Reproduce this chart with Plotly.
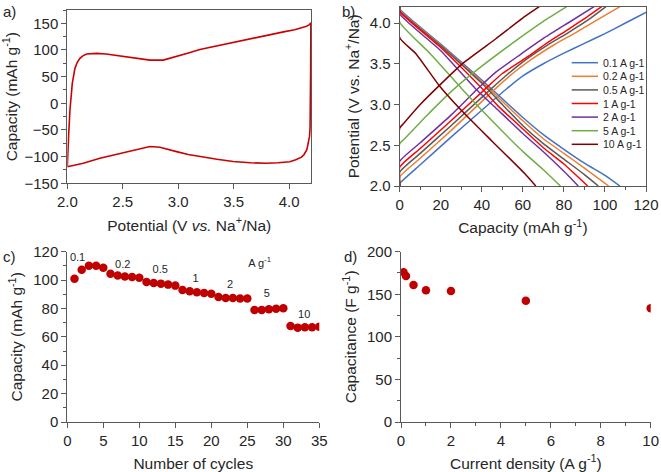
import plotly.graph_objects as go

# ---------------- data ----------------
# a) CV loop (potential V, capacity mAh/g)
cv_up_v = [2.000, 2.003, 2.012, 2.024, 2.045, 2.069, 2.090, 2.114, 2.140, 2.175, 2.220, 2.265, 2.350, 2.440,
           2.595, 2.745, 2.865, 2.985, 3.100, 3.195, 3.350, 3.495, 3.650, 3.796, 3.950, 4.050, 4.120, 4.157, 4.180, 4.196]
cv_up_c = [-119, -100, -60, -12.5, 37.5, 65.6, 77, 84.4, 89, 92.4, 93.5, 93.7, 92.5, 90,
           86, 81, 81, 87.5, 95, 101, 108, 114, 121, 127.5, 134, 138, 142, 144.5, 147, 151]
cv_dn_v = [4.196, 4.194, 4.192, 4.189, 4.184, 4.175, 4.160, 4.135, 4.112, 4.060, 4.006, 3.900, 3.796, 3.650,
           3.495, 3.350, 3.195, 3.090, 2.985, 2.900, 2.835, 2.745, 2.680, 2.595, 2.450, 2.294, 2.144, 2.070, 2.000]
cv_dn_c = [151, 60, -20, -45, -62, -75, -87, -96, -101, -106, -109.5, -111.5, -112.5, -111.5,
           -109, -105, -100, -96, -90.6, -86, -82.5, -81, -84, -88.8, -96, -103, -112.5, -116, -119]

# b) galvanostatic charge/discharge curves
rates = ["0.1 A g-1", "0.2 A g-1", "0.5 A g-1", "1 A g-1", "2 A g-1", "5 A g-1", "10 A g-1"]
rate_colors = ["#4472C4", "#ED7D31", "#595959", "#FF0000", "#7030A0", "#70AD47", "#800000"]
ch_cap = [
    [0, 0, 10, 25, 40, 52, 60, 70, 80, 90, 100, 110, 120, 125],
    [0, 0, 10, 25, 46, 55, 64, 75, 85, 95, 107.3],
    [0, 0, 10, 25, 44, 53, 62, 72, 82, 92, 100.5],
    [0, 0, 10, 25, 41.2, 50, 62, 72, 82, 91, 98.4],
    [0, 0, 10, 25, 37.5, 47, 58.6, 70, 82, 94.7],
    [0, 0, 2, 13, 26, 40, 57, 70, 81.4],
    [0, 0, 2, 10, 20, 31, 47, 61, 68],
]
ch_pot = [
    [2.0, 2.03, 2.26, 2.60, 2.93, 3.19, 3.35, 3.50, 3.63, 3.75, 3.87, 4.00, 4.13, 4.20],
    [2.0, 2.11, 2.34, 2.68, 3.18, 3.38, 3.55, 3.73, 3.87, 4.02, 4.20],
    [2.0, 2.17, 2.40, 2.74, 3.18, 3.38, 3.56, 3.73, 3.88, 4.04, 4.20],
    [2.0, 2.23, 2.46, 2.80, 3.18, 3.38, 3.58, 3.76, 3.92, 4.07, 4.20],
    [2.0, 2.30, 2.53, 2.87, 3.18, 3.40, 3.61, 3.81, 4.00, 4.20],
    [2.0, 2.52, 2.57, 2.86, 3.18, 3.47, 3.79, 4.02, 4.20],
    [2.0, 2.71, 2.77, 3.00, 3.25, 3.51, 3.81, 4.08, 4.20],
]
dis_cap = [
    [0, 0, 20, 40, 50, 60, 70, 80, 90, 100, 107.3],
    [0, 0, 20, 40, 50, 60, 70, 80, 90, 101.8],
    [0, 0, 20, 40, 50, 60, 70, 80, 90, 96.8],
    [0, 0, 20, 40, 48, 60, 70, 80, 91.6],
    [0, 0, 20, 36.7, 48, 61, 70, 80, 87],
    [0, 0, 15, 30, 45, 61, 70, 78.3],
    [0, 0, 8, 19, 30, 45, 61, 66.3],
]
dis_pot = [
    [4.2, 4.17, 3.74, 3.30, 3.07, 2.84, 2.63, 2.45, 2.28, 2.13, 2.0],
    [4.2, 4.16, 3.73, 3.28, 3.04, 2.80, 2.58, 2.40, 2.22, 2.0],
    [4.2, 4.15, 3.72, 3.26, 3.00, 2.74, 2.52, 2.33, 2.14, 2.0],
    [4.2, 4.14, 3.70, 3.20, 2.98, 2.70, 2.47, 2.27, 2.0],
    [4.2, 4.11, 3.66, 3.20, 2.93, 2.62, 2.42, 2.18, 2.0],
    [4.2, 4.01, 3.62, 3.20, 2.80, 2.40, 2.20, 2.0],
    [4.2, 3.82, 3.62, 3.24, 2.93, 2.55, 2.15, 2.0],
]

# c) rate capability
cycles = list(range(1, 36))
cycle_cap = [101, 107.3, 110.1, 110.1, 108.7, 104.5, 103.3, 102.6, 102.2, 101.7,
             98.6, 97.9, 97.5, 96.8, 96.1, 93, 92.1, 91.4, 90.9, 90.4,
             88.1, 87.4, 87.4, 87.1, 87.1, 78.9, 78.9, 79.4, 79.8, 80.1,
             67.6, 66.5, 66.7, 66.7, 67.2]
rate_labels = ["0.1", "0.2", "0.5", "1", "2", "5", "10", "A g<sup>-1</sup>"]
rate_label_x = [1.43, 7.7, 12.9, 17.8, 22.6, 27.7, 32.9, 26.7]
rate_label_y = [115.1, 110.4, 106.6, 100.5, 96.5, 90, 75.2, 111.1]

# d) capacitance vs current density
current_density = [0.1, 0.2, 0.5, 1, 2, 5, 10]
capacitance = [176, 171.5, 161, 154.6, 153.8, 142.3, 133.5]

# ---------------- figure ----------------
FONT = "Liberation Sans, Arial, sans-serif"
TXT = "#262626"
AX = "#595959"
W, H = 661, 472

fig = go.Figure()

fig.add_trace(go.Scatter(x=cv_up_v + cv_dn_v, y=cv_up_c + cv_dn_c, mode="lines",
                         line=dict(color="#CC0000", width=1.6), xaxis="x", yaxis="y", showlegend=False))

for i, name in enumerate(rates):
    xs = ch_cap[i] + [None] + dis_cap[i]
    ys = ch_pot[i] + [None] + dis_pot[i]
    fig.add_trace(go.Scatter(x=xs, y=ys, mode="lines", name=name,
                             line=dict(color=rate_colors[i], width=1.5, shape="spline", smoothing=0.5),
                             xaxis="x2", yaxis="y2", showlegend=False))

fig.add_trace(go.Scatter(x=cycles, y=cycle_cap, mode="markers",
                         marker=dict(color="#C00000", size=8.5), xaxis="x3", yaxis="y3", showlegend=False))
fig.add_trace(go.Scatter(x=rate_label_x, y=rate_label_y, mode="text", text=rate_labels,
                         textfont=dict(family=FONT, size=11, color=TXT), xaxis="x3", yaxis="y3",
                         showlegend=False, hoverinfo="skip"))

fig.add_trace(go.Scatter(x=current_density, y=capacitance, mode="markers",
                         marker=dict(color="#C00000", size=8.5), xaxis="x4", yaxis="y4", showlegend=False))


def px_x(p):
    return p / W


def px_y(p):
    return 1 - p / H


tickfont = dict(family=FONT, size=15, color=TXT)
titlefont = dict(family=FONT, size=15.5, color=TXT)


def axis(domain, rng, dtick, title, anchor, mirror, minor_dtick=None, standoff=8, ticklen=5):
    d = dict(domain=domain, range=rng, dtick=dtick, tick0=rng[0] if dtick else None,
             title=dict(text=title, font=titlefont, standoff=standoff),
             tickfont=tickfont, showgrid=False, zeroline=False, showline=True,
             linecolor=AX, linewidth=1, mirror=mirror, ticks="outside", ticklen=ticklen,
             tickcolor=AX, tickwidth=1, anchor=anchor, automargin=False, fixedrange=True)
    if minor_dtick:
        d["minor"] = dict(dtick=minor_dtick, ticks="outside", ticklen=3, tickcolor=AX, tickwidth=1, showgrid=False)
    return d


layout = dict(
    width=W, height=H, margin=dict(l=0, r=0, t=0, b=0),
    paper_bgcolor="white", plot_bgcolor="white", showlegend=False,
    font=dict(family=FONT, color=TXT),
    xaxis=axis([px_x(67.3), px_x(311.3)], [2.0, 4.2], 0.5,
               "Potential (V <i>vs.</i> Na<sup>+</sup>/Na)", "y", True, standoff=10),
    yaxis=axis([px_y(183.3), px_y(10)], [-150, 175], 50, "Capacity (mAh g<sup>-1</sup>)", "x", True,
               minor_dtick=25, standoff=6),
    xaxis2=axis([px_x(399.7), px_x(646)], [0, 120], 20, "Capacity (mAh g<sup>-1</sup>)", "y2", True,
                minor_dtick=10, standoff=10),
    yaxis2=axis([px_y(186), px_y(6.7)], [2.0, 4.2], 0.5, "Potential (V vs. Na<sup>+</sup>/Na)", "x2", True,
                standoff=6),
    xaxis3=axis([px_x(67.3), px_x(319.3)], [0, 35], 5, "Number of cycles", "y3", False, standoff=10),
    yaxis3=axis([px_y(422), px_y(251.7)], [0, 120], 20, "Capacity (mAh g<sup>-1</sup>)", "x3", False,
                minor_dtick=10, standoff=6),
    xaxis4=axis([px_x(401), px_x(650.7)], [0, 10], 2, "Current density (A g<sup>-1</sup>)", "y4", False,
                minor_dtick=1, standoff=10),
    yaxis4=axis([px_y(422), px_y(251.7)], [0, 200], 50, "Capacitance (F g<sup>-1</sup>)", "x4", False,
                minor_dtick=25, standoff=6),
)
fig.update_layout(**layout)
fig.update_yaxes(tickformat="d")
fig.update_layout(yaxis2=dict(tickformat=".1f"), xaxis=dict(tickformat=".1f"))

# panel labels
for lab, x, y in [("a)", 1, 1), ("b)", 340, 1), ("c)", 1, 246), ("d)", 342, 246)]:
    fig.add_annotation(text=lab, x=px_x(x), y=px_y(y), xref="paper", yref="paper",
                       xanchor="left", yanchor="top", showarrow=False,
                       font=dict(family=FONT, size=15, color=TXT))

# manual legend for panel b
leg_y = [62.7, 76.3, 89.9, 103.5, 117.1, 130.7, 144.3]
for i, name in enumerate(rates):
    fig.add_shape(type="line", xref="paper", yref="paper",
                  x0=px_x(571.7), x1=px_x(598), y0=px_y(leg_y[i]), y1=px_y(leg_y[i]),
                  line=dict(color=rate_colors[i], width=1.5))
    fig.add_annotation(text=name, x=px_x(600.5), y=px_y(leg_y[i]), xref="paper", yref="paper",
                       xanchor="left", yanchor="middle", showarrow=False,
                       font=dict(family=FONT, size=10.5, color=TXT))

fig.write_html("out.html", config={"displayModeBar": False, "staticPlot": True},
               post_script="document.body.style.margin='0';document.body.style.overflow='hidden';")
